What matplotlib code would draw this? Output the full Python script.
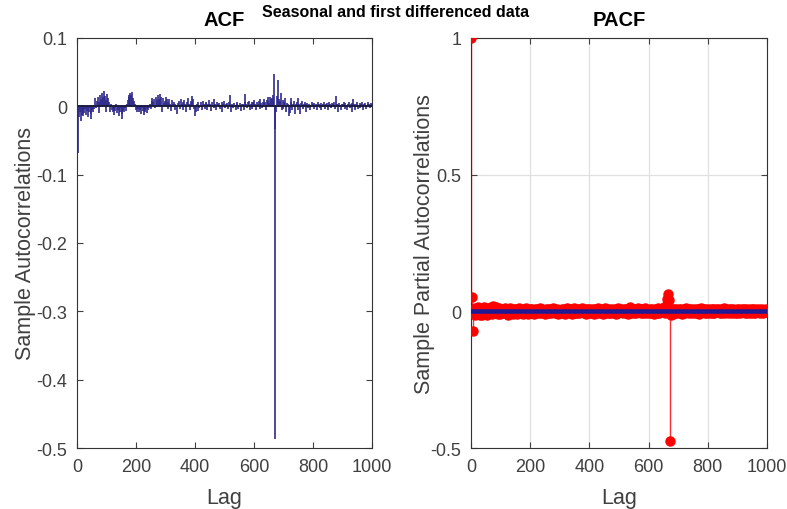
import matplotlib
matplotlib.use("Agg")
import matplotlib.pyplot as plt
import numpy as np

plt.rcParams['font.family'] = ['Liberation Sans', 'DejaVu Sans']
plt.rcParams['axes.unicode_minus'] = False

# ACF values (thousandths), lags 1, 4, 7, ... 1000
acf_lags = np.arange(1, 1001, 3)
acf_milli = [
    58, -69, -15, -8, -21, -12, -6, -14, -10, -4,
    -12, -7, -16, -9, -3, -11, -18, -6, -9, -4,
    12, -3, 8, 14, -10, 6, 17, 11, 19, 13,
    22, 15, 9, -8, 18, 12, 7, -9, 4, -6,
    -9, -4, -12, -7, 3, -10, -5, -14, -8, -3,
    -11, -19, -6, -9, -2, -7, 3, 9, 14, 17,
    20, 16, 21, 12, 8, 3, -5, -2, -8, -4,
    -9, -6, -11, -3, -7, -13, -5, -8, -2, -10,
    -6, -3, 4, -4, 8, 12, 6, 10, -3, 14,
    9, 16, 11, 18, 7, 13, -9, 12, 5, 8,
    14, 10, -4, 6, 11, 4, -7, 9, 3, 6,
    4, -6, 2, -11, 5, 8, -4, 10, 3, 7,
    -5, 9, 4, -8, 6, 12, 3, -6, 8, 5,
    15, 10, -4, -14, -9, 4, -7, 6, -3, 2,
    6, -5, 8, 3, -4, 5, 7, -6, 4, 9,
    3, -7, 6, 2, -3, 10, 4, -5, 7, 3,
    5, -4, 2, 6, -9, 4, 8, -3, 3, 5,
    -4, 6, 2, 17, -9, 4, -3, 5, 2, -6,
    3, 6, -4, 2, 5, -7, 4, 3, -5, 6,
    18, 4, -3, 6, 8, -5, 3, 7, -4, 6,
    9, 4, -6, 7, 3, 8, -4, 10, 5, -3,
    7, 11, 6, -5, 9, 13, 8, 5, 14, 10,
    12, 16, 47, -33, -487, -8, 15, 38, 11, 8,
    19, -6, 9, -4, 7, 12, -8, 5, 3, -14,
    -10, 12, 6, -5, 4, 8, -11, 3, 7, 12,
    -6, 4, -11, 5, 8, -4, 3, 6, -8, 4,
    5, -3, 4, -6, 2, 6, 3, -4, 5, 2,
    4, -5, 6, 3, -3, 5, -6, 2, 4, 7,
    -4, 3, 5, -5, 2, 6, 4, -3, 5, 3,
    6, -4, 15, 4, 3, -9, 5, 2, -5, 4,
    3, 6, -4, 5, 2, -6, 4, 7, -3, 3,
    5, -8, 10, 4, -5, 3, 6, -4, 2, 5,
    -3, 4, 6, -5, 3, 5, -4, 2, 6, 3,
    4, -3, 5, 4,
]

# PACF values (thousandths), lags 0, 3, 6, ... 999
pacf_lags = np.arange(0, 1000, 3)
pacf_milli = [
    1000, 53, -71, -8, 12, -14, 6, -10, 15, -6,
    -12, 9, -15, 5, -9, 14, -7, 11, -13, 8,
    12, -5, 16, 9, -8, 18, 11, -6, 14, 7,
    -9, 13, 6, -11, 10, -4, 8, -7, 12, 5,
    -8, 9, -12, 6, 11, -5, 7, -9, 4, 10,
    -6, 8, -10, 5, 12, -7, 6, -4, 9, -8,
    7, -5, 11, 4, -9, 6, -6, 8, 10, -4,
    5, -8, 7, -5, 9, 3, -7, 6, 12, -6,
    8, -4, 6, -9, 10, 5, -6, 7, -5, 9,
    -7, 6, 11, -4, 8, -6, 5, 9, -8, 6,
    4, -7, 10, 5, -5, 8, -9, 6, 13, -4,
    7, -6, 9, 4, -8, 6, 11, -5, 7, -7,
    5, 9, -6, 8, -4, 12, 6, -7, 5, 8,
    -9, 6, 10, -5, 7, -6, 4, 9, -8, 6,
    8, -5, 6, 11, -7, 5, -4, 9, 6, -8,
    7, 12, -6, 5, 8, -5, 6, -7, 10, 4,
    -6, 8, 5, -9, 7, 13, -5, 6, -4, 9,
    6, -7, 8, 4, -6, 10, 5, -8, 7, 14,
    -5, 6, 9, -6, 4, 8, -7, 6, 11, -4,
    8, -6, 5, 9, -5, 7, 13, -6, 6, 4,
    -7, 9, 5, -5, 8, 6, -8, 10, 4, -6,
    7, 12, -5, 8, 6, 10, 5, 14, -6, 9,
    18, 45, 63, 40, -475, -12, 8, -9, 6, 9,
    -6, 8, 5, -7, 10, 6, -5, 7, -8, 5,
    9, -6, 12, 6, -4, 8, -7, 5, 10, -5,
    6, 8, -6, 4, 9, -5, 7, -8, 5, 11,
    -4, 6, 8, -6, 5, 9, -5, 4, 7, -7,
    6, 10, -5, 8, -6, 5, 7, -4, 9, 6,
    -6, 8, 5, -7, 6, 11, -5, 7, -4, 6,
    9, -6, 5, 8, -5, 7, 4, -7, 6, 10,
    -5, 6, 8, -6, 5, 9, -4, 7, -6, 5,
    8, -5, 6, 10, -6, 5, 7, -5, 9, 4,
    -6, 7, 5, -4, 8, 6, -7, 5, 9, -5,
    6, -4, 7, 5,
]
pacf_bound = 0.004

acf = np.array(acf_milli) / 1000.0
pacf = np.array(pacf_milli) / 1000.0

fig = plt.figure(figsize=(7.87, 5.10), dpi=100)
ax1 = fig.add_axes([0.0978, 0.1196, 0.3748, 0.804])
ax2 = fig.add_axes([0.5985, 0.1196, 0.3761, 0.804])

dark = '#404040'

# ACF
ax1.vlines(acf_lags, 0, acf, color='#2e2a8c', lw=1.2)
ax1.axhline(0, color='#1c1c40', lw=1.4)
ax1.set_xlim(0, 1000)
ax1.set_ylim(-0.5, 0.1)
ax1.set_yticks(np.arange(-0.5, 0.11, 0.1))
ax1.set_yticklabels(['-0.5', '-0.4', '-0.3', '-0.2', '-0.1', '0', '0.1'])
ax1.set_title('ACF', fontsize=14.5, fontweight='bold', pad=9)
ax1.set_ylabel('Sample Autocorrelations', fontsize=15.5, color=dark, labelpad=0)

# PACF
ax2.grid(True, color='#e0e0e0', lw=0.9)
ax2.set_axisbelow(True)
ax2.vlines(pacf_lags, 0, pacf, color='#ff3030', lw=1.0, zorder=2)
ax2.plot(pacf_lags, pacf, 'o', color='#ff0000', ms=6.5, mec='#ff0000', zorder=3)
ax2.axhline(pacf_bound, color='#1a1a99', lw=1.8, zorder=4)
ax2.axhline(-pacf_bound, color='#1a1a99', lw=1.8, zorder=4)
ax2.set_xlim(0, 1000)
ax2.set_ylim(-0.5, 1)
ax2.set_yticks([-0.5, 0, 0.5, 1])
ax2.set_yticklabels(['-0.5', '0', '0.5', '1'])
ax2.set_title('PACF', fontsize=14.5, fontweight='bold', pad=9)
ax2.set_ylabel('Sample Partial Autocorrelations', fontsize=15.5, color=dark, labelpad=-3)

for ax in (ax1, ax2):
    ax.set_xticks(np.arange(0, 1001, 200))
    ax.set_xlabel('Lag', fontsize=15.5, color=dark, labelpad=9)
    ax.tick_params(direction='in', length=4, width=0.8, top=True, right=True,
                   labelsize=13, colors=dark, pad=7)
    for s in ax.spines.values():
        s.set_color('#333333')
        s.set_linewidth(0.8)

fig.text(0.502, 0.976, 'Seasonal and first differenced data', ha='center',
         va='center', fontsize=11.5, fontweight='bold')

fig.savefig('out.png', dpi=100)
